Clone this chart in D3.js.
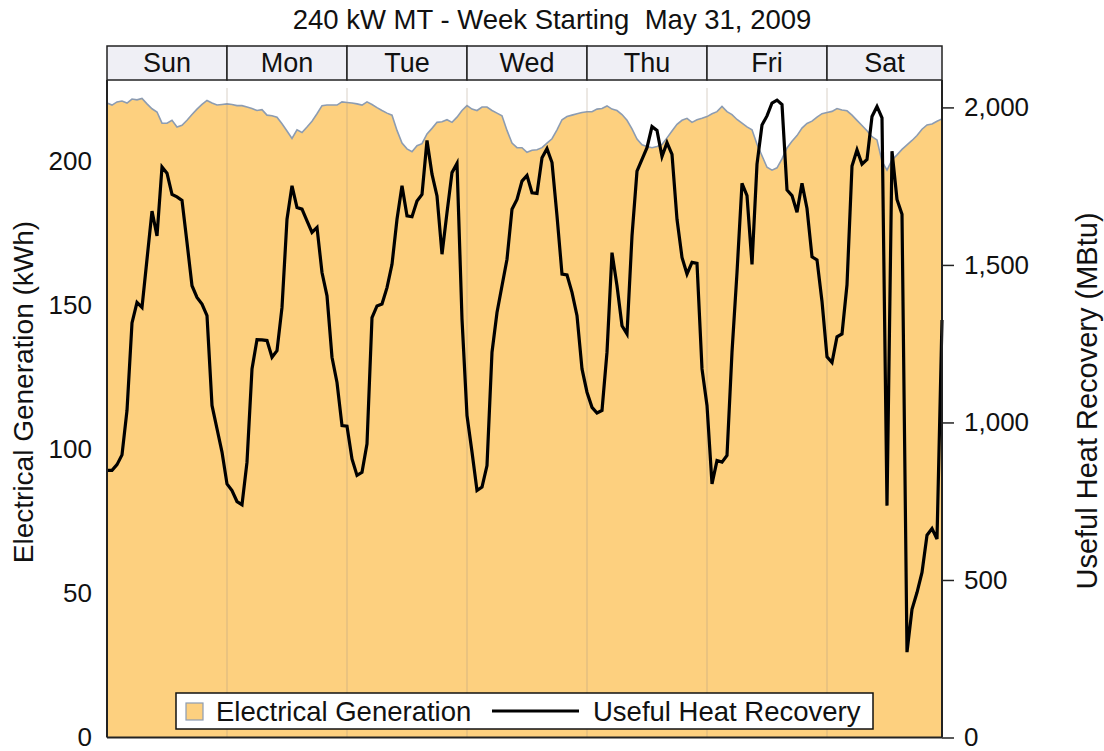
<!DOCTYPE html>
<meta charset="utf-8">

<!-- Load d3.js -->
<script src="https://d3js.org/d3.v7.min.js"></script>

<style>
  body { margin: 0; background: white; }
  text { font-family: "Liberation Sans", Arial, Helvetica, sans-serif; fill: #111; }
</style>

<body>
<div id="chart"></div>

<script>
  // ---- data (one value per hour, hour 0 = Sun 00:00) ----
  var days = ["Sun", "Mon", "Tue", "Wed", "Thu", "Fri", "Sat"];

  // Electrical Generation (kWh) - left axis
  var elecGen = [
    220.3, 219.6, 220.7, 221.0, 220.3, 221.7, 221.4, 221.9, 220.0, 218.3,
    217.2, 213.3, 213.3, 214.3, 212.0, 212.6, 214.3, 216.3, 218.2, 219.8,
    221.2, 220.3, 219.6, 219.8, 220.0, 219.8, 219.4, 219.4, 218.9, 218.4,
    217.7, 218.0, 216.1, 215.9, 215.4, 213.1, 210.6, 208.0, 211.0, 210.1,
    212.0, 214.0, 216.6, 219.4, 219.6, 219.6, 219.6, 220.7, 220.5, 220.3,
    220.0, 219.6, 220.7, 219.8, 218.7, 217.7, 216.8, 216.1, 210.8, 206.4,
    204.4, 203.4, 205.5, 206.2, 209.6, 211.5, 213.6, 213.8, 214.5, 213.6,
    215.4, 217.7, 219.4, 218.2, 217.7, 218.9, 218.9, 217.7, 216.8, 215.9,
    210.8, 206.4, 204.8, 204.8, 203.2, 203.9, 204.1, 204.8, 206.4, 207.9,
    211.0, 214.5, 215.6, 216.1, 216.6, 217.0, 217.3, 217.3, 218.2, 218.4,
    219.3, 218.2, 217.7, 216.3, 214.3, 211.3, 207.8, 205.8, 205.2, 204.8,
    205.2, 205.9, 208.2, 210.6, 212.9, 214.3, 215.0, 213.6, 214.5, 215.0,
    215.6, 216.6, 217.3, 219.1, 217.3, 216.3, 214.6, 213.3, 212.0, 211.0,
    206.0, 202.0, 198.0, 197.0, 197.8, 200.9, 204.7, 207.0, 209.0, 211.6,
    213.2, 214.0, 215.4, 216.6, 217.0, 217.4, 218.4, 217.9, 217.6, 216.1,
    214.3, 212.5, 210.7, 208.6, 207.5, 200.0, 197.0, 200.5, 202.3, 204.2,
    205.8, 207.3, 209.0, 211.2, 212.7, 213.0, 214.0, 214.8
  ];

  // Useful Heat Recovery (MBtu) - right axis
  var heatRecovery = [
    848, 848, 866, 897, 1038, 1316, 1381, 1365, 1518, 1671,
    1592, 1811, 1791, 1724, 1716, 1705, 1571, 1434, 1397, 1376,
    1339, 1054, 980, 906, 805, 784, 749, 739, 874, 1170,
    1263, 1262, 1260, 1207, 1228, 1365, 1645, 1751, 1682, 1677,
    1640, 1603, 1619, 1476, 1402, 1207, 1127, 990, 988, 884,
    832, 842, 932, 1333, 1370, 1376, 1428, 1502, 1645, 1751,
    1656, 1653, 1703, 1724, 1895, 1788, 1719, 1534, 1666, 1793,
    1822, 1328, 1022, 906, 784, 795, 863, 1223, 1349, 1434,
    1518, 1677, 1708, 1766, 1784, 1729, 1727, 1840, 1869, 1825,
    1656, 1471, 1468, 1413, 1339, 1170, 1096, 1048, 1030, 1038,
    1223, 1539, 1434, 1307, 1281, 1592, 1798, 1835, 1872, 1939,
    1927, 1844, 1888, 1851, 1645, 1524, 1471, 1508, 1505, 1170,
    1054, 805, 879, 874, 895, 1223, 1476, 1759, 1720, 1502,
    1820, 1944, 1973, 2014, 2023, 2009, 1738, 1720, 1667, 1759,
    1679, 1526, 1516, 1384, 1208, 1190, 1272, 1281, 1437, 1814,
    1865, 1820, 1835, 1971, 2003, 1967, 736, 1861, 1708, 1661,
    271, 407, 460, 524, 642, 663, 630, 1325
  ];

  var leftTicks = [0, 50, 100, 150, 200];
  var rightTicks = [0, 500, 1000, 1500, 2000];

  var titleText = "240 kW MT - Week Starting  May 31, 2009";
  var legendNames = ["Electrical Generation", "Useful Heat Recovery"];

  // ---- layout ----
  var W = 1104, H = 751;
  var plot = { left: 107, right: 942, top: 80, bottom: 737.5 };
  var strip = { top: 46, bottom: 80 };

  var areaFill = "#fdd07f",
      areaEdge = "#8c9cb2";

  var svg = d3.select("#chart").append("svg")
      .attr("width", W)
      .attr("height", H);

  // scales
  var x = d3.scaleLinear()
      .domain([0, elecGen.length - 1])
      .range([plot.left, plot.right]);

  var yLeft = d3.scaleLinear()
      .domain([0, 228.3])
      .range([plot.bottom, plot.top]);

  var yRight = d3.scaleLinear()
      .domain([0, 2087])
      .range([plot.bottom, plot.top]);

  // Title
  svg.append("text")
      .attr("x", 552)
      .attr("y", 29)
      .attr("text-anchor", "middle")
      .style("font-size", "27.5px")
      .style("white-space", "pre")
      .text(titleText);

  // ---- day strip ----
  var dayScale = d3.scaleLinear().domain([0, 168]).range([plot.left, plot.left + 168 * (plot.right - plot.left) / 167]);

  var cells = svg.append("g");
  days.forEach(function(d, i) {
    var x0 = dayScale(i * 24),
        x1 = Math.min(dayScale((i + 1) * 24), plot.right);
    cells.append("rect")
      .attr("x", x0)
      .attr("y", strip.top)
      .attr("width", x1 - x0)
      .attr("height", strip.bottom - strip.top)
      .attr("fill", "#efeff5")
      .attr("stroke", "#222")
      .attr("stroke-width", 1.5);
    cells.append("text")
      .attr("x", (x0 + x1) / 2)
      .attr("y", strip.top + 26)
      .attr("text-anchor", "middle")
      .style("font-size", "27px")
      .text(d);
  });

  // ---- area: electrical generation ----
  var area = d3.area()
      .x(function(d, i) { return x(i); })
      .y0(plot.bottom)
      .y1(function(d) { return yLeft(d); });

  svg.append("path")
      .datum(elecGen)
      .attr("d", area)
      .attr("fill", areaFill);

  svg.append("path")
      .datum(elecGen)
      .attr("d", d3.line().x(function(d, i) { return x(i); }).y(function(d) { return yLeft(d); }))
      .attr("fill", "none")
      .attr("stroke", areaEdge)
      .attr("stroke-width", 1.6);

  // day grid lines (faint, over the area)
  svg.append("g")
    .selectAll("line")
    .data(d3.range(1, 7))
    .enter().append("line")
      .attr("x1", function(d) { return x(d * 24); })
      .attr("x2", function(d) { return x(d * 24); })
      .attr("y1", 88)
      .attr("y2", plot.bottom)
      .attr("stroke", "#a89880")
      .attr("stroke-opacity", 0.3)
      .attr("stroke-width", 1.5);

  // ---- line: useful heat recovery ----
  svg.append("path")
      .datum(heatRecovery)
      .attr("d", d3.line().x(function(d, i) { return x(i); }).y(function(d) { return yRight(d); }))
      .attr("fill", "none")
      .attr("stroke", "#000")
      .attr("stroke-width", 3.2)
      .attr("stroke-linejoin", "miter");

  // ---- frame ----
  svg.append("line")
      .attr("x1", plot.left).attr("x2", plot.left)
      .attr("y1", strip.bottom).attr("y2", plot.bottom)
      .attr("stroke", "#222").attr("stroke-width", 2);
  svg.append("line")
      .attr("x1", plot.right).attr("x2", plot.right)
      .attr("y1", strip.bottom).attr("y2", plot.bottom)
      .attr("stroke", "#222").attr("stroke-width", 2);
  svg.append("line")
      .attr("x1", plot.left).attr("x2", plot.right)
      .attr("y1", plot.bottom).attr("y2", plot.bottom)
      .attr("stroke", "#222").attr("stroke-width", 2);

  // Left axis (labels only, no ticks)
  var axL = svg.append("g")
      .attr("transform", "translate(" + (plot.left - 15) + ",0)")
      .call(d3.axisLeft(yLeft).tickValues(leftTicks).tickSize(0).tickPadding(0));
  axL.select(".domain").remove();
  axL.selectAll("text")
      .style("font-size", "26px")
      .attr("fill", "#111");

  // Right axis
  var axR = svg.append("g")
      .attr("transform", "translate(" + plot.right + ",0)")
      .call(d3.axisRight(yRight).tickValues(rightTicks).tickSize(12).tickPadding(10).tickFormat(d3.format(",")));
  axR.select(".domain").remove();
  axR.selectAll("line").attr("stroke", "#222").attr("stroke-width", 1.5);
  axR.selectAll("text")
      .style("font-size", "26px")
      .attr("fill", "#111");

  // Axis titles
  svg.append("text")
      .attr("transform", "translate(33," + 392 + ") rotate(-90)")
      .attr("text-anchor", "middle")
      .style("font-size", "28px")
      .text("Electrical Generation (kWh)");

  svg.append("text")
      .attr("transform", "translate(1097," + 401 + ") rotate(-90)")
      .attr("text-anchor", "middle")
      .style("font-size", "29px")
      .text("Useful Heat Recovery (MBtu)");

  // ---- legend ----
  var lg = svg.append("g");
  lg.append("rect")
      .attr("x", 176).attr("y", 693)
      .attr("width", 697).attr("height", 36)
      .attr("fill", "white")
      .attr("stroke", "#111")
      .attr("stroke-width", 1.5);
  lg.append("rect")
      .attr("x", 186).attr("y", 703)
      .attr("width", 17).attr("height", 17)
      .attr("fill", areaFill)
      .attr("stroke", areaEdge)
      .attr("stroke-width", 1.2);
  lg.append("text")
      .attr("x", 216).attr("y", 721)
      .style("font-size", "27.5px")
      .text(legendNames[0]);
  lg.append("line")
      .attr("x1", 492).attr("x2", 579)
      .attr("y1", 711).attr("y2", 711)
      .attr("stroke", "#000")
      .attr("stroke-width", 3);
  lg.append("text")
      .attr("x", 593).attr("y", 721)
      .style("font-size", "27.5px")
      .text(legendNames[1]);
</script>
</body>
</html>
